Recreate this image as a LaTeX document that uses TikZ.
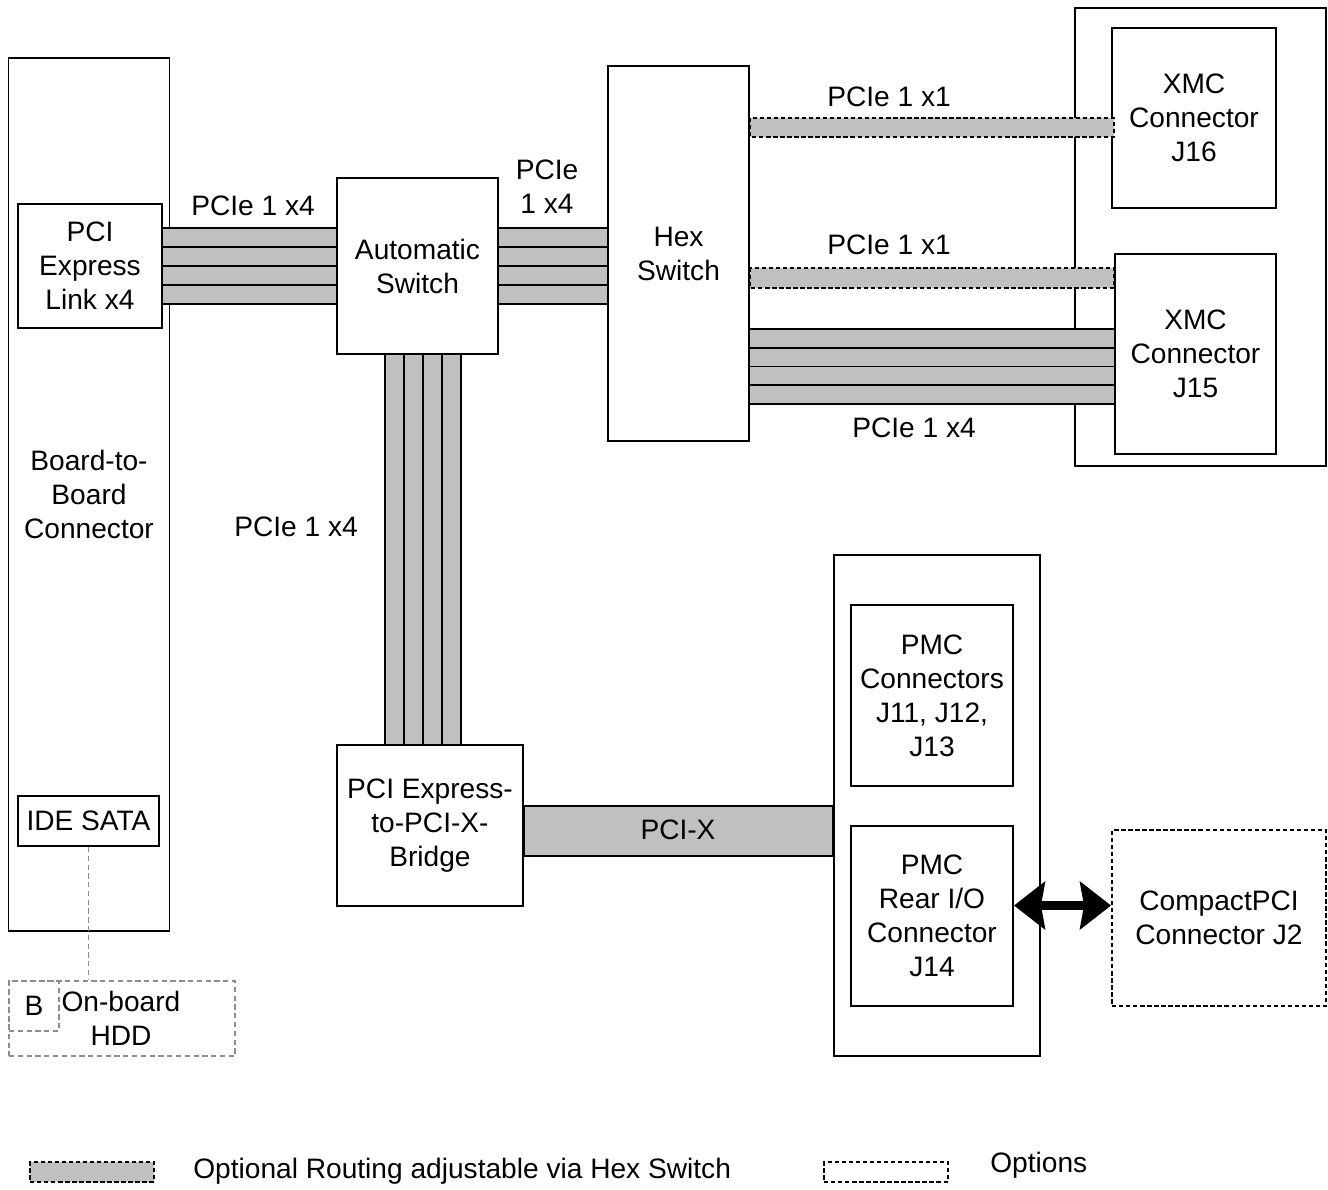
\documentclass[tikz,border=0pt]{standalone}
\usepackage{fontspec}
\setmainfont{Liberation Sans}
\usepackage{tikz}
\usetikzlibrary{arrows.meta,positioning}
\definecolor{busgray}{HTML}{C0C0C0}
\definecolor{optgray}{HTML}{8C8C8C}

\begin{document}
\begin{tikzpicture}[
          box/.style = {draw, line width=1.1pt, align=center, inner sep=2pt,
                        font=\fontsize{16}{19.3}\selectfont},
          optbox/.style = {box, dashed, dash pattern=on 2.5pt off 1.5pt},
          hddbox/.style = {box, draw=optgray, dashed, dash pattern=on 3pt off 2pt},
          lane/.style = {line width=1.1pt},
          optbus/.style = {fill=busgray, line width=1pt, dashed, dash pattern=on 2.5pt off 1.5pt},
          lbl/.style = {font=\fontsize{16}{19.3}\selectfont, align=center, inner sep=0pt},
          dblarr/.style = {line width=5pt, {Stealth[length=0.62cm,width=0.95cm,inset=0.08cm]}-{Stealth[length=0.62cm,width=0.95cm,inset=0.08cm]}},
        ]
        \useasboundingbox (0,0) rectangle (26.56,-23.78);

        % outer frames first
        \node[box, minimum width=3.22cm, minimum height=17.46cm] (b2b) at (1.78,-9.89) {Board-to-\\Board\\Connector};
        \node[box, minimum width=5.02cm, minimum height=9.16cm] (xmc) at (24.01,-4.74) {};
        \node[box, minimum width=4.12cm, minimum height=10.02cm] (pmc) at (18.74,-16.11) {};

        \node[box, fill=white, minimum width=2.88cm, minimum height=2.48cm] (pcie) at (1.80,-5.32) {PCI\\Express\\Link x4};
        \node[box, minimum width=2.82cm, minimum height=1.0cm] (ide) at (1.77,-16.42) {IDE SATA};
        \node[hddbox, minimum width=4.52cm, minimum height=1.5cm] (hdd) at (2.44,-20.37) {};
        \node[hddbox, minimum width=1.0cm, minimum height=1.0cm] (bay) at (0.68,-20.12) {B};
        \node[lbl] (hddtxt) at (2.42,-20.36) {On-board\\HDD};

        \node[box, minimum width=3.22cm, minimum height=3.52cm] (auto) at (8.35,-5.32) {Automatic\\Switch};
        \node[box, minimum width=2.82cm, minimum height=7.5cm] (hex) at (13.57,-5.07) {Hex\\Switch};
        \node[box, minimum width=3.28cm, minimum height=3.6cm] (j16) at (23.88,-2.36) {XMC\\Connector\\J16};
        \node[box, minimum width=3.22cm, minimum height=4.0cm] (j15) at (23.91,-7.08) {XMC\\Connector\\J15};
        \node[box, minimum width=3.72cm, minimum height=3.22cm] (bridge) at (8.60,-16.51) {PCI Express-\\to-PCI-X-\\Bridge};
        \node[box, minimum width=3.24cm, minimum height=3.62cm] (j11) at (18.64,-13.91) {PMC\\Connectors\\J11, J12,\\J13};
        \node[box, minimum width=3.24cm, minimum height=3.6cm] (j14) at (18.64,-18.32) {PMC\\Rear I/O\\Connector\\J14};
        \node[optbox, minimum width=4.28cm, minimum height=3.52cm] (cpci) at (24.38,-18.36) {CompactPCI\\Connector J2};

        % PCIe x4 buses
        \fill[busgray] (pcie.east |- 0,-4.56) rectangle (auto.west |- 0,-6.08);
        \foreach \y in {-4.56,-4.94,-5.32,-5.70,-6.08}
          \draw[lane] (pcie.east |- 0,\y) -- (auto.west |- 0,\y);
        \fill[busgray] (auto.east |- 0,-4.56) rectangle (hex.west |- 0,-6.08);
        \foreach \y in {-4.56,-4.94,-5.32,-5.70,-6.08}
          \draw[lane] (auto.east |- 0,\y) -- (hex.west |- 0,\y);
        \fill[busgray] (auto.south -| 7.70,0) rectangle (bridge.north -| 9.22,0);
        \foreach \x in {7.70,8.08,8.46,8.84,9.22}
          \draw[lane] (auto.south -| \x,0) -- (bridge.north -| \x,0);
        \fill[busgray] (hex.east |- 0,-6.58) rectangle (j15.west |- 0,-8.08);
        \foreach \y in {-6.58,-6.955,-7.33,-7.705,-8.08}
          \draw[lane] (hex.east |- 0,\y) -- (j15.west |- 0,\y);

        % optional x1 routes
        \draw[optbus] (hex.east |- 0,-2.36) rectangle (j15.west |- 0,-2.74);
        \draw[optbus] (hex.east |- 0,-5.36) rectangle (j15.west |- 0,-5.76);

        % PCI-X
        \draw[fill=busgray, line width=1.1pt] (bridge.east |- 0,-16.12) rectangle (pmc.west |- 0,-17.12);
        \node[lbl] (pcix) at (13.56,-16.60) {PCI-X};

        \draw[optgray, line width=1pt, dashed, dash pattern=on 3pt off 2pt] (ide.south) -- (ide.south |- hdd.north);
        \draw[dblarr] (j14.east |- 0,-18.11) -- (cpci.west |- 0,-18.11);

        % bus labels
        \node[lbl] (l1) at (5.06,-4.12) {PCIe 1 x4};
        \node[lbl] (l2) at (10.94,-3.74) {PCIe\\1 x4};
        \node[lbl] (l3) at (5.92,-10.54) {PCIe 1 x4};
        \node[lbl] (l4) at (17.78,-1.94) {PCIe 1 x1};
        \node[lbl] (l5) at (17.78,-4.90) {PCIe 1 x1};
        \node[lbl] (l6) at (18.28,-8.56) {PCIe 1 x4};

        % legend
        \node[optbox, fill=busgray, line width=1pt, minimum width=2.48cm, minimum height=0.4cm] (leg1) at (1.84,-23.44) {};
        \node[lbl, anchor=west] (leg1txt) at (3.86,-23.42) {Optional Routing adjustable via Hex Switch};
        \node[optbox, line width=1pt, minimum width=2.48cm, minimum height=0.4cm] (leg2) at (17.72,-23.44) {};
        \node[lbl, anchor=west] (leg2txt) at (19.80,-23.30) {Options};
      \end{tikzpicture}
\end{document}
